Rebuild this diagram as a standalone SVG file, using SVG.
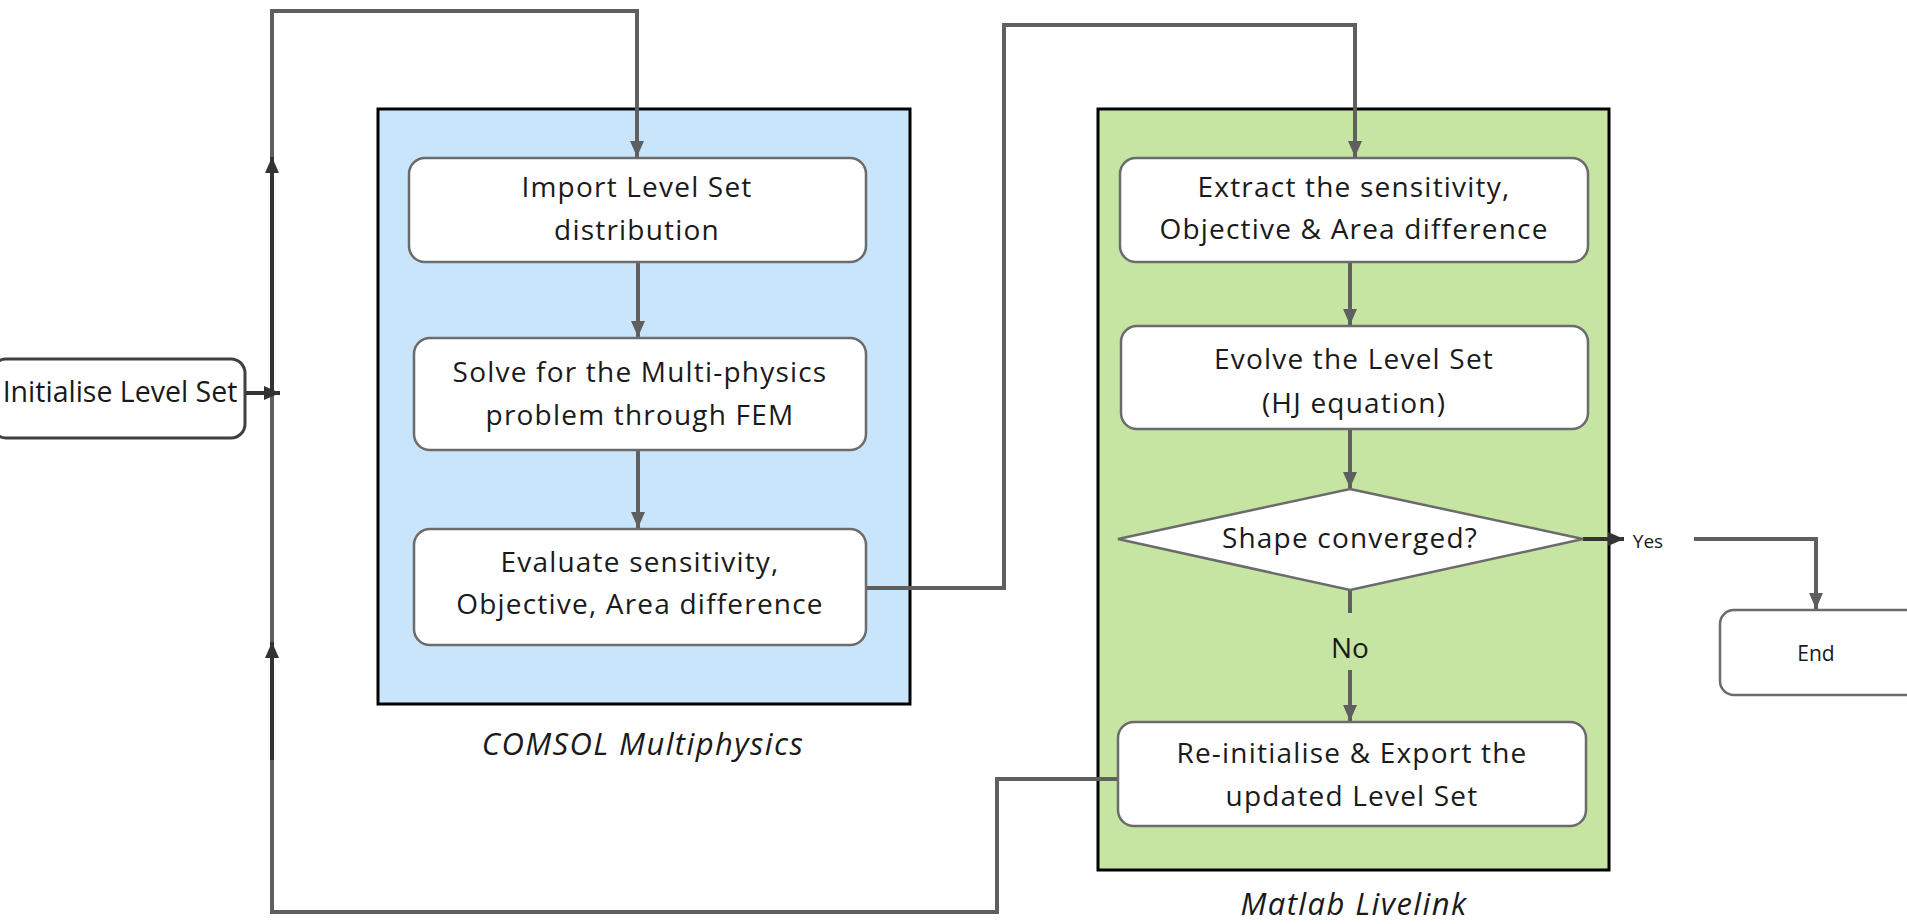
<svg xmlns="http://www.w3.org/2000/svg" width="1907" height="924" viewBox="0 0 1907 924">
<defs>
<style>
.bg{fill:#ffffff}
.node{fill:#ffffff;stroke:#6b6b6b;stroke-width:2.5}
.cont{stroke:#000000;stroke-width:3}
.t{font-family:"Open Sans","Liberation Sans",sans-serif;fill:#1a1a1a;text-anchor:middle}
.bx{font-size:28px;letter-spacing:1.2px}
.cap{font-size:31px;font-style:italic;letter-spacing:1.4px}
.conn{fill:none;stroke:#5f5f5f;stroke-width:4}
.blk{fill:none;stroke:#333333;stroke-width:4}
</style>
<marker id="ag" viewBox="0 0 16 14" refX="16" refY="7" markerWidth="16" markerHeight="14" markerUnits="userSpaceOnUse" orient="auto">
<path d="M0,0 L16,7 L0,14 Z" fill="#5f5f5f"/>
</marker>
<marker id="ab" viewBox="0 0 16 14" refX="16" refY="7" markerWidth="16" markerHeight="14" markerUnits="userSpaceOnUse" orient="auto">
<path d="M0,0 L16,7 L0,14 Z" fill="#333333"/>
</marker>
</defs>
<rect class="bg" x="0" y="0" width="1907" height="924"/>

<g id="comsol">
<rect class="cont" x="378" y="109" width="532" height="595" fill="#c9e5fc"/>
<text class="t cap" x="643" y="755">COMSOL Multiphysics</text>
</g>
<g id="matlab">
<rect class="cont" x="1098" y="109" width="511" height="761" fill="#c6e5a3"/>
<text class="t cap" x="1354" y="915">Matlab Livelink</text>
</g>

<g id="connectors">
<path class="conn" d="M1118,779 H997 V912 H272 V11 H637 V157" marker-end="url(#ag)"/>
<path class="conn" d="M272,912 H383" stroke="#4a4a4a"/>
<path class="conn" d="M866,588 H1004 V25 H1355 V157" marker-end="url(#ag)"/>
<path class="conn" d="M638,262 V337" marker-end="url(#ag)"/>
<path class="conn" d="M638,450 V528" marker-end="url(#ag)"/>
<path class="conn" d="M1350,262 V325" marker-end="url(#ag)"/>
<path class="conn" d="M1350,429 V488" marker-end="url(#ag)"/>
<path class="conn" d="M1350,590 V613"/>
<path class="conn" d="M1350,670 V721" marker-end="url(#ag)"/>
<path class="conn" d="M1694,539 H1816 V609" marker-end="url(#ag)"/>
<path class="blk" d="M1583,539 H1624" marker-end="url(#ab)"/>
<path class="blk" d="M245,393 H280" marker-end="url(#ab)"/>
<path class="blk" d="M272,390 V157" marker-end="url(#ab)"/>
<path class="blk" d="M272,760 V642" marker-end="url(#ab)"/>
<text class="t" x="1648" y="548" font-size="19">Yes</text>
<text class="t" x="1350" y="658" font-size="28">No</text>
</g>

<g id="init">
<rect x="-8" y="359" width="253" height="79" rx="14" fill="#ffffff" stroke="#404040" stroke-width="3"/>
<text class="t" x="120" y="402" font-size="28.5">Initialise Level Set</text>
</g>
<g id="import">
<rect class="node" x="409" y="158" width="457" height="104" rx="16"/>
<text class="t bx" x="637" y="197">Import Level Set</text>
<text class="t bx" x="637" y="240">distribution</text>
</g>
<g id="solve">
<rect class="node" x="414" y="338" width="452" height="112" rx="16"/>
<text class="t bx" x="640" y="382">Solve for the Multi-physics</text>
<text class="t bx" x="640" y="425">problem through FEM</text>
</g>
<g id="evaluate">
<rect class="node" x="414" y="529" width="452" height="116" rx="16"/>
<text class="t bx" x="640" y="572">Evaluate sensitivity,</text>
<text class="t bx" x="640" y="614">Objective, Area difference</text>
</g>
<g id="extract">
<rect class="node" x="1120" y="158" width="468" height="104" rx="16"/>
<text class="t bx" x="1354" y="197">Extract the sensitivity,</text>
<text class="t bx" x="1354" y="239">Objective &amp; Area difference</text>
</g>
<g id="evolve">
<rect class="node" x="1121" y="326" width="467" height="103" rx="16"/>
<text class="t bx" x="1354" y="369">Evolve the Level Set</text>
<text class="t bx" x="1354" y="413">(HJ equation)</text>
</g>
<g id="decision">
<polygon class="node" points="1350,489 1583,539 1350,590 1118,539"/>
<text class="t bx" x="1350" y="548">Shape converged?</text>
</g>
<g id="reinit">
<rect class="node" x="1118" y="722" width="468" height="104" rx="16"/>
<text class="t bx" x="1352" y="763">Re-initialise &amp; Export the</text>
<text class="t bx" x="1352" y="806">updated Level Set</text>
</g>
<g id="end">
<rect class="node" x="1720" y="610" width="200" height="85" rx="14"/>
<text class="t" x="1816" y="661" font-size="21">End</text>
</g>
</svg>
